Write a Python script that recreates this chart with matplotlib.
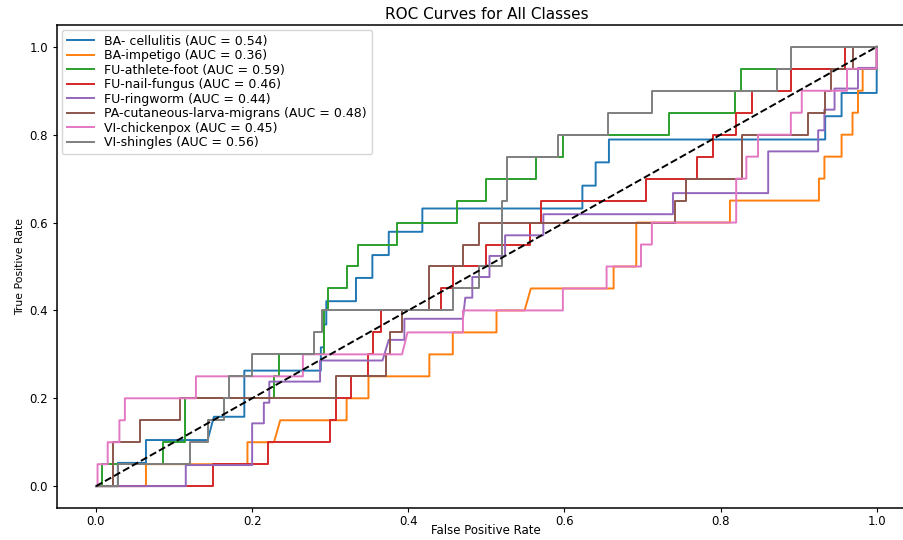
import matplotlib
matplotlib.use('Agg')
import matplotlib.pyplot as plt

# ROC corner points, one pair of lists per class
fpr_cellulitis = [0, 0.028, 0.028, 0.064, 0.064, 0.143, 0.151, 0.19, 0.19, 0.288, 0.288, 0.292, 0.292, 0.295, 0.295,
                  0.333, 0.333, 0.354, 0.354, 0.375, 0.375, 0.418, 0.418, 0.623, 0.623, 0.64, 0.64, 0.657, 0.657,
                  0.934, 0.934, 0.955, 0.955, 1.0, 1.0]
tpr_cellulitis = [0, 0, 0.053, 0.053, 0.105, 0.105, 0.158, 0.158, 0.263, 0.263, 0.316, 0.316, 0.368, 0.368, 0.421,
                  0.421, 0.474, 0.474, 0.526, 0.526, 0.579, 0.579, 0.632, 0.632, 0.684, 0.684, 0.737, 0.737, 0.789,
                  0.789, 0.842, 0.842, 0.895, 0.895, 1.0]

fpr_impetigo = [0, 0.064, 0.064, 0.194, 0.194, 0.228, 0.236, 0.321, 0.321, 0.349, 0.349, 0.427, 0.427, 0.457, 0.457,
                0.513, 0.513, 0.549, 0.557, 0.663, 0.663, 0.692, 0.692, 0.812, 0.812, 0.926, 0.926, 0.933, 0.933,
                0.955, 0.955, 0.969, 0.969, 0.976, 0.976, 0.982, 0.982, 1.0, 1.0]
tpr_impetigo = [0, 0, 0.05, 0.05, 0.1, 0.1, 0.15, 0.15, 0.2, 0.2, 0.25, 0.25, 0.3, 0.3, 0.35,
                0.35, 0.4, 0.4, 0.45, 0.45, 0.5, 0.5, 0.6, 0.6, 0.65, 0.65, 0.7, 0.7, 0.75,
                0.75, 0.8, 0.8, 0.85, 0.85, 0.9, 0.9, 0.95, 0.95, 1.0]

fpr_athlete = [0, 0.008, 0.008, 0.086, 0.086, 0.114, 0.114, 0.228, 0.228, 0.235, 0.235, 0.292, 0.292, 0.297, 0.297,
               0.321, 0.321, 0.335, 0.335, 0.386, 0.386, 0.463, 0.463, 0.499, 0.499, 0.564, 0.564, 0.598, 0.598,
               0.734, 0.734, 0.819, 0.819, 0.826, 0.826, 1.0, 1.0]
tpr_athlete = [0, 0, 0.05, 0.05, 0.1, 0.1, 0.2, 0.2, 0.25, 0.25, 0.3, 0.3, 0.4, 0.4, 0.45,
               0.45, 0.5, 0.5, 0.55, 0.55, 0.6, 0.6, 0.65, 0.65, 0.7, 0.7, 0.75, 0.75, 0.8,
               0.8, 0.85, 0.85, 0.9, 0.9, 0.95, 0.95, 1.0]

fpr_nail = [0, 0.15, 0.15, 0.22, 0.22, 0.3, 0.3, 0.307, 0.307, 0.327, 0.327, 0.349, 0.349, 0.355, 0.355, 0.365,
            0.365, 0.442, 0.442, 0.457, 0.457, 0.499, 0.499, 0.556, 0.556, 0.57, 0.57, 0.705, 0.705, 0.77, 0.77,
            0.79, 0.79, 0.82, 0.82, 0.84, 0.84, 0.89, 0.89, 0.96, 0.96, 1.0]
tpr_nail = [0, 0, 0.05, 0.05, 0.1, 0.1, 0.15, 0.15, 0.2, 0.2, 0.25, 0.25, 0.3, 0.3, 0.35, 0.35,
            0.4, 0.4, 0.45, 0.45, 0.5, 0.5, 0.55, 0.55, 0.6, 0.6, 0.65, 0.65, 0.7, 0.7, 0.75,
            0.75, 0.8, 0.8, 0.85, 0.85, 0.9, 0.9, 0.95, 0.95, 1.0, 1.0]

fpr_ringworm = [0, 0.115, 0.115, 0.2, 0.2, 0.215, 0.215, 0.222, 0.222, 0.287, 0.287, 0.367, 0.375, 0.395, 0.395,
                0.47, 0.473, 0.482, 0.482, 0.504, 0.504, 0.524, 0.524, 0.573, 0.573, 0.739, 0.739, 0.861, 0.861,
                0.925, 0.925, 0.933, 0.933, 0.946, 0.946, 0.976, 0.976, 1.0, 1.0]
tpr_ringworm = [0, 0, 0.048, 0.048, 0.143, 0.143, 0.19, 0.19, 0.238, 0.238, 0.286, 0.286, 0.333, 0.333, 0.381,
                0.381, 0.429, 0.429, 0.476, 0.476, 0.524, 0.524, 0.571, 0.571, 0.619, 0.619, 0.667, 0.667, 0.762,
                0.762, 0.81, 0.81, 0.857, 0.857, 0.905, 0.905, 0.952, 0.952, 1.0]

fpr_larva = [0, 0.022, 0.022, 0.057, 0.057, 0.107, 0.107, 0.307, 0.307, 0.371, 0.371, 0.377, 0.377, 0.392, 0.392,
             0.427, 0.427, 0.47, 0.47, 0.49, 0.49, 0.742, 0.742, 0.756, 0.756, 0.827, 0.827, 0.912, 0.912,
             0.934, 0.934, 0.941, 0.941, 0.969, 0.969, 1.0]
tpr_larva = [0, 0, 0.1, 0.1, 0.15, 0.15, 0.2, 0.2, 0.25, 0.25, 0.3, 0.3, 0.35, 0.35, 0.4,
             0.4, 0.5, 0.5, 0.55, 0.55, 0.6, 0.6, 0.65, 0.65, 0.7, 0.7, 0.8, 0.8, 0.85,
             0.85, 0.9, 0.9, 0.95, 0.95, 1.0, 1.0]

fpr_chickenpox = [0, 0.002, 0.002, 0.015, 0.015, 0.03, 0.03, 0.037, 0.037, 0.128, 0.128, 0.265, 0.265, 0.392, 0.399,
                  0.47, 0.47, 0.598, 0.598, 0.654, 0.654, 0.698, 0.698, 0.712, 0.712, 0.82, 0.82, 0.833, 0.833,
                  0.848, 0.848, 0.89, 0.89, 0.904, 0.904, 0.962, 0.962, 1.0, 1.0]
tpr_chickenpox = [0, 0, 0.05, 0.05, 0.1, 0.1, 0.15, 0.15, 0.2, 0.2, 0.25, 0.25, 0.3, 0.3, 0.35,
                  0.35, 0.4, 0.4, 0.45, 0.45, 0.5, 0.5, 0.55, 0.55, 0.6, 0.6, 0.7, 0.7, 0.75,
                  0.75, 0.8, 0.8, 0.85, 0.85, 0.9, 0.9, 0.95, 0.95, 1.0]

fpr_shingles = [0, 0.028, 0.028, 0.121, 0.121, 0.143, 0.143, 0.164, 0.164, 0.171, 0.171, 0.2, 0.2, 0.279, 0.279,
                0.29, 0.29, 0.457, 0.457, 0.49, 0.49, 0.52, 0.52, 0.527, 0.527, 0.592, 0.592, 0.656, 0.656,
                0.712, 0.712, 0.872, 0.872, 0.89, 0.89, 1.0]
tpr_shingles = [0, 0, 0.05, 0.05, 0.1, 0.1, 0.15, 0.15, 0.2, 0.2, 0.25, 0.25, 0.3, 0.3, 0.35,
                0.35, 0.4, 0.4, 0.45, 0.45, 0.5, 0.5, 0.65, 0.65, 0.75, 0.75, 0.8, 0.8, 0.85,
                0.85, 0.9, 0.9, 0.95, 0.95, 1.0, 1.0]

class_names = ['BA- cellulitis', 'BA-impetigo', 'FU-athlete-foot', 'FU-nail-fungus', 'FU-ringworm',
               'PA-cutaneous-larva-migrans', 'VI-chickenpox', 'VI-shingles']
auc_values = [0.54, 0.36, 0.59, 0.46, 0.44, 0.48, 0.45, 0.56]

curves = [
  (fpr_cellulitis, tpr_cellulitis),
  (fpr_impetigo, tpr_impetigo),
  (fpr_athlete, tpr_athlete),
  (fpr_nail, tpr_nail),
  (fpr_ringworm, tpr_ringworm),
  (fpr_larva, tpr_larva),
  (fpr_chickenpox, tpr_chickenpox),
  (fpr_shingles, tpr_shingles),
]

fig = plt.figure(figsize=(9.04, 5.4), dpi=100)
ax = fig.add_axes([0.063, 0.059, 0.95, 0.895])

for (fpr, tpr), name, auc in zip(curves, class_names, auc_values):
  ax.plot(fpr, tpr, lw=1.4, label=f'{name} (AUC = {auc:.2f})')

ax.plot([0, 1], [0, 1], 'k--', lw=1.4)

ax.set_xlim(-0.05, 1.05)
ax.set_ylim(-0.05, 1.05)
ax.set_xticks([0.0, 0.2, 0.4, 0.6, 0.8, 1.0])
ax.set_yticks([0.0, 0.2, 0.4, 0.6, 0.8, 1.0])
ax.tick_params(labelsize=8.5, length=3)
ax.tick_params(axis='x', pad=2)
for s in ax.spines.values():
  s.set_linewidth(1.1)
ax.set_xlabel('False Positive Rate', fontsize=8.5)
# the label sits right at the lower edge, as in the screenshot
ax.xaxis.set_label_coords(0.5, -0.033)
ax.set_ylabel('True Positive Rate', fontsize=7.8, labelpad=3)
ax.set_title('ROC Curves for All Classes', fontsize=11, pad=4)
ax.legend(loc='upper left', fontsize=9, handlelength=2.2, labelspacing=0.12, borderaxespad=0.4)

plt.savefig('out.png', dpi=100)
